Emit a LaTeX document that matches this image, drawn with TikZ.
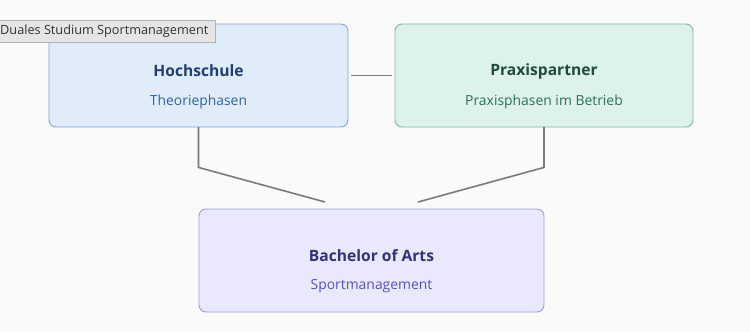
\documentclass[tikz,border=0pt]{standalone}
\usepackage{fontspec}
\setmainfont{Open Sans}
\definecolor{bg}{HTML}{FAFAF9}
\definecolor{hfill}{HTML}{E1ECFA}\definecolor{hdraw}{HTML}{7FA6DA}
\definecolor{htitle}{HTML}{1D3F73}\definecolor{hsub}{HTML}{2F63A8}
\definecolor{pfill}{HTML}{DCF2EA}\definecolor{pdraw}{HTML}{7DBBA0}
\definecolor{ptitle}{HTML}{1F4D3A}\definecolor{psub}{HTML}{2B7356}
\definecolor{bfill}{HTML}{E9E8FC}\definecolor{bdraw}{HTML}{A09AE2}
\definecolor{btitle}{HTML}{35307A}\definecolor{bsub}{HTML}{5A4FC0}
\definecolor{conn}{HTML}{7A7A78}
\begin{document}
\begin{tikzpicture}[x=1pt,y=-1pt,
  boxstyle/.style={draw,line width=0.9pt,rounded corners=7pt,inner sep=0pt},
  title/.style={font=\fontsize{15.6}{19}\selectfont\bfseries},
  sub/.style={font=\fontsize{13.9}{16}\selectfont},
  connstyle/.style={draw=conn,line width=1.6pt}]
\fill[bg] (0,0) rectangle (750,332);
\useasboundingbox (0,0) rectangle (750,332);
\node[boxstyle,draw=hdraw,fill=hfill,minimum width=299pt,minimum height=103pt] (h) at (198.5,75.5) {};
\node[boxstyle,draw=pdraw,fill=pfill,minimum width=298pt,minimum height=103pt] (p) at (544,75.5) {};
\node[boxstyle,draw=bdraw,fill=bfill,minimum width=345pt,minimum height=103pt] (b) at (371.5,260.5) {};
\node[title,text=htitle] (ht) at (198.5,71) {Hochschule};
\node[sub,text=hsub] (hs) at (198.5,102) {Theoriephasen};
\node[title,text=ptitle] (pt) at (544,71) {Praxispartner};
\node[sub,text=psub] (ps) at (544,102) {Praxisphasen im Betrieb};
\node[title,text=btitle] (bt) at (371.5,256) {Bachelor of Arts};
\node[sub,text=bsub] (bs) at (371.5,286) {Sportmanagement};
\coordinate (lend) at (325,202);
\coordinate (rend) at (418,202);
\draw[connstyle] ([xshift=3pt]h.east) -- ([xshift=-3pt]p.west);
\draw[connstyle] ([yshift=0.5pt]h.south) -- ++(0,40.5) -- (lend);
\draw[connstyle] ([yshift=0.5pt]p.south) -- ++(0,40.5) -- (rend);
\node[draw=black!30,fill=black!10,line width=0.8pt,inner sep=0pt,minimum width=216pt,minimum height=22pt,anchor=north west] (tip) at (-1,20) {};
\node[font=\fontsize{12.7}{15}\selectfont,text=black!80,anchor=west,inner sep=0pt] (tipt) at (0,31) {Duales Studium Sportmanagement};
\end{tikzpicture}
\end{document}
